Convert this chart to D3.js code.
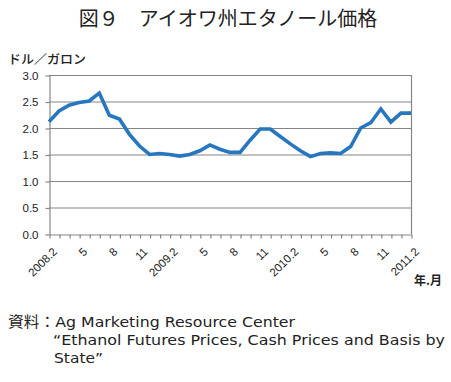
<!DOCTYPE html>
<html>
<head>
<meta charset="utf-8">
<script src="https://cdn.jsdelivr.net/npm/d3@7"></script>
<style>
  html, body { margin: 0; padding: 0; background: #fff; }
  svg { display: block; }
</style>
</head>
<body>
<svg id="chart" width="451" height="382"></svg>
<script>
const title = "図９　アイオワ州エタノール価格";
const yUnit = "ドル／ガロン";
const xUnit = "年.月";
const sourceLines = [
  "資料：Ag Marketing Resource Center",
  "“Ethanol Futures Prices, Cash Prices and Basis by",
  "State”"
];

const categories = [
  "2008.2","2008.3","2008.4","2008.5","2008.6","2008.7","2008.8","2008.9","2008.10","2008.11","2008.12",
  "2009.1","2009.2","2009.3","2009.4","2009.5","2009.6","2009.7","2009.8","2009.9","2009.10","2009.11","2009.12",
  "2010.1","2010.2","2010.3","2010.4","2010.5","2010.6","2010.7","2010.8","2010.9","2010.10","2010.11","2010.12",
  "2011.1","2011.2"
];
const prices = [
  2.12, 2.32, 2.43, 2.48, 2.51, 2.66, 2.24, 2.17, 1.88, 1.66, 1.50,
  1.52, 1.50, 1.47, 1.50, 1.57, 1.68, 1.60, 1.54, 1.54, 1.77, 1.98, 1.98,
  1.84, 1.70, 1.57, 1.46, 1.52, 1.53, 1.52, 1.65, 2.00, 2.10, 2.36, 2.11,
  2.28, 2.28
];
const tickCategories = ["2008.2","2008.5","2008.8","2008.11","2009.2","2009.5","2009.8","2009.11","2010.2","2010.5","2010.8","2010.11","2011.2"];
const tickLabels     = ["2008.2","5","8","11","2009.2","5","8","11","2010.2","5","8","11","2011.2"];
const yTicks = [0.0, 0.5, 1.0, 1.5, 2.0, 2.5, 3.0];

const svg = d3.select("#chart");
const L = 49, R = 411, T = 75, B = 234;
const gray = "#868686";
const blue = "#2777c0";

const x = d3.scalePoint().domain(categories).range([L, R]);
const y = d3.scaleLinear().domain([0, 3]).range([B, T]);

// Title
svg.append("text").attr("x", 228).attr("y", 26).attr("text-anchor", "middle")
  .attr("font-family", "'Noto Sans CJK JP'").attr("font-size", 20).attr("fill", "#222")
  .text(title);

// unit label
svg.append("text").attr("x", 8).attr("y", 64)
  .attr("font-family", "'Noto Sans CJK JP'").attr("font-weight", 500).attr("font-size", 12.5).attr("fill", "#222")
  .attr("textLength", 78).attr("lengthAdjust", "spacingAndGlyphs")
  .text(yUnit);

// grid lines
svg.append("g").selectAll("line").data(yTicks.filter(d => d > 0)).join("line")
  .attr("x1", L).attr("x2", R).attr("y1", d => y(d) + 0.5).attr("y2", d => y(d) + 0.5)
  .attr("stroke", gray).attr("stroke-width", 1.2);
// right border
svg.append("line").attr("x1", R + 0.5).attr("x2", R + 0.5).attr("y1", T).attr("y2", B)
  .attr("stroke", gray).attr("stroke-width", 1.2);

// Y axis
const yAxis = svg.append("g").attr("transform", `translate(${L + 0.5},0.5)`)
  .call(d3.axisLeft(y).tickValues(yTicks).tickFormat(d3.format(".1f")).tickSize(4).tickSizeOuter(0));
yAxis.select(".domain").attr("stroke", gray).attr("stroke-width", 1.2);
yAxis.selectAll(".tick line").attr("stroke", gray).attr("stroke-width", 1.2);
yAxis.selectAll(".tick text").attr("font-family", "'Liberation Sans', Arial, sans-serif")
  .attr("font-size", 11.5).attr("fill", "#222").attr("x", -11);

// X axis
const labelMap = new Map(tickCategories.map((c, i) => [c, tickLabels[i]]));
const xAxis = svg.append("g").attr("transform", `translate(0.5,${B + 0.5})`)
  .call(d3.axisBottom(x).tickValues(categories).tickFormat(d => labelMap.get(d) || "").tickSize(4).tickSizeOuter(0));
xAxis.select(".domain").attr("stroke", gray).attr("stroke-width", 1.2);
xAxis.selectAll(".tick line").attr("stroke", gray).attr("stroke-width", 1.2);
xAxis.selectAll(".tick text")
  .attr("font-family", "'Liberation Sans', Arial, sans-serif").attr("font-size", 11.5).attr("fill", "#222")
  .attr("text-anchor", "end").attr("dy", "0.35em").attr("y", 0)
  .attr("transform", "translate(5,15) rotate(-45)");

// line
svg.append("path").datum(prices)
  .attr("d", d3.line().x((d, i) => x(categories[i])).y(d => y(d)))
  .attr("fill", "none").attr("stroke", blue).attr("stroke-width", 3.6)
  .attr("stroke-linejoin", "miter").attr("stroke-linecap", "butt");

// x unit
svg.append("text").attr("x", 414).attr("y", 285)
  .attr("font-family", "'Noto Sans CJK JP'").attr("font-weight", 700).attr("font-size", 12).attr("fill", "#222")
  .text(xUnit);

// Source
const src = svg.append("g").attr("font-family", "'DejaVu Sans', 'Noto Sans CJK JP'").attr("font-size", 14.5).attr("fill", "#222");
src.append("text").attr("x", 8).attr("y", 327).attr("textLength", 287).attr("lengthAdjust", "spacingAndGlyphs").text(sourceLines[0]);
src.append("text").attr("x", 53).attr("y", 345).attr("textLength", 392).attr("lengthAdjust", "spacingAndGlyphs").text(sourceLines[1]);
src.append("text").attr("x", 54).attr("y", 363).attr("textLength", 49).attr("lengthAdjust", "spacingAndGlyphs").text(sourceLines[2]);
</script>
</body>
</html>
